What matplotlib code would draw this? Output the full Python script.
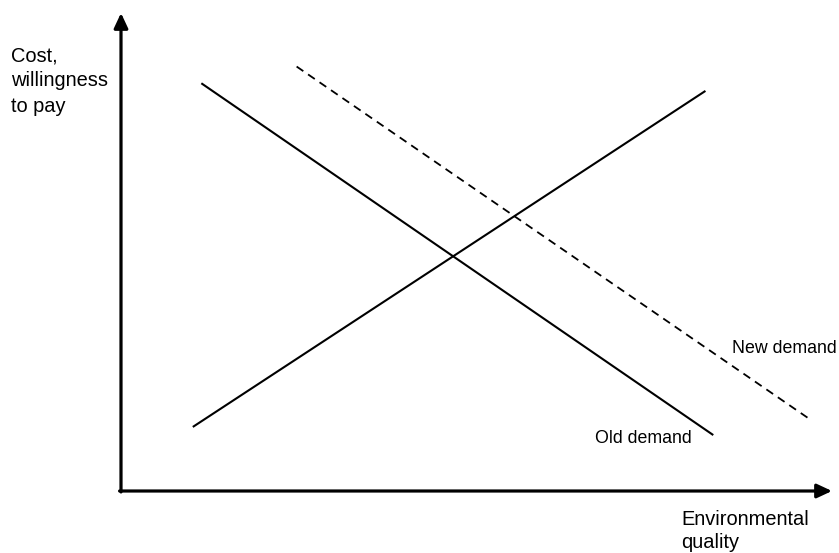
import matplotlib
matplotlib.use("Agg")
import matplotlib.pyplot as plt

# Data (in diagram units: quality on x, cost / willingness to pay on y; axes span 0..10)
supply_x = [1.01, 8.22]
supply_y = [1.34, 8.37]
old_demand_x = [1.13, 8.33]
old_demand_y = [8.53, 1.17]
new_demand_x = [2.47, 9.66]
new_demand_y = [8.88, 1.53]

y_label_lines = ["Cost,", "willingness", "to pay"]
x_label_lines = ["Environmental", "quality"]
old_label = "Old demand"
new_label = "New demand"

W, H = 839, 553
plt.rcParams['font.family'] = ['Liberation Sans', 'DejaVu Sans']
fig = plt.figure(figsize=(W / 100, H / 100), dpi=100)

# axes spanning the diagram region (pixel 121..832 horizontally, 13..491 vertically)
left, right, top, bottom = 121, 832, 13, 491
ax = fig.add_axes([left / W, 1 - bottom / H, (right - left) / W, (bottom - top) / H])
ax.set_xlim(0, 10)
ax.set_ylim(0, 10)
ax.axis('off')

# axes with arrows
arrow_kw = dict(arrowstyle='-|>,head_length=0.9,head_width=0.42', lw=2.3, color='black',
                shrinkA=0, shrinkB=0)
ax.annotate('', xy=(10, 0), xytext=(-0.02, 0), arrowprops=arrow_kw, annotation_clip=False)
ax.annotate('', xy=(0, 10), xytext=(0, -0.02), arrowprops=arrow_kw, annotation_clip=False)

ax.plot(supply_x, supply_y, color='black', lw=1.5, solid_capstyle='butt', clip_on=False)
ax.plot(old_demand_x, old_demand_y, color='black', lw=1.5, solid_capstyle='butt', clip_on=False)
ax.plot(new_demand_x, new_demand_y, color='black', lw=1.3, linestyle=(0, (4.5, 3.2)),
        dash_capstyle='butt', clip_on=False)

def ftext(x, y, s, size):
    fig.text(x / W, 1 - y / H, s, fontsize=size, ha='left', va='baseline', color='black')

for i, s in enumerate(y_label_lines):
    ftext(11, 61 + 25.5 * i, s, 14.4)
for i, s in enumerate(x_label_lines):
    ftext(681, 525 + 23 * i, s, 14.4)
ftext(595, 443, old_label, 12.8)
ftext(732, 353, new_label, 12.8)

fig.savefig('out.png', dpi=100, facecolor='white')
